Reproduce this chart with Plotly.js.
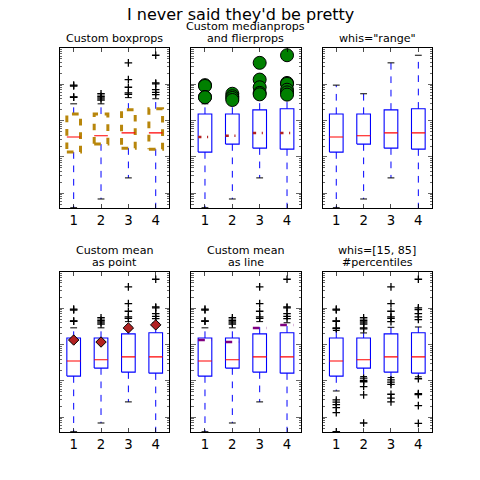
<!DOCTYPE html>
<html><head><meta charset="utf-8">
<script src="https://cdn.plot.ly/plotly-3.0.1.min.js"></script>
<style>html,body{margin:0;padding:0;background:#fff}#chart{width:480px;height:480px}</style>
</head><body><div id="chart"></div>
<script>
// ---- data (log-normal samples, 4 series) ----
const positions = [1, 2, 3, 4];
const tickLabels = ['1', '2', '3', '4'];
const q1 = [1.36, 2.26, 1.75, 1.64];
const medians = [3.55, 3.83, 4.6, 4.6];
const q3 = [15.2, 15.2, 19.8, 21.2];
const means = [13.4, 11.8, 28.8, 35.0];
// whiskers at 1.5 IQR and the fliers beyond
const whisLow = [0.040, 0.0696, 0.265, 0.030];
const whisHigh = [29, 29, 43, 40];
const fliersHigh = [[95, 90, 45, 44], [55, 47, 42, 37], [390, 135, 83, 58, 53], [632, 109, 103, 71, 60, 52]];
// full range
const dataMin = [0.040, 0.0696, 0.265, 0.030];
const dataMax = [95, 55, 390, 632];
// 15th / 85th percentiles and the points outside them
const p15 = [0.53, 1.32, 1.24, 1.30];
const p85 = [24.5, 21, 30, 30.6];
const pctFliersLow = [[0.30, 0.26, 0.223, 0.184, 0.134, 0.040], [1.19, 1.03, 0.95, 0.70, 0.413, 0.0696],
                      [1.07, 0.93, 0.80, 0.43, 0.335, 0.265], [1.15, 0.45, 0.42, 0.209, 0.068, 0.030]];
const pctFliersHigh = [[95, 90, 45, 44, 29, 27.5], [55, 47, 42, 37, 29, 27],
                       [390, 135, 83, 58, 53, 43], [632, 103, 92, 71, 58, 49]];
const subTitles = [['Custom boxprops'], ['Custom medianprops', 'and flierprops'], ['whis="range"'],
                   ['Custom mean', 'as point'], ['Custom mean', 'as line'], ['whis=[15, 85]', '#percentiles']];
const mainTitle = "I never said they'd be pretty";

// ---- styling ----
const FONT = 'DejaVu Sans, Bitstream Vera Sans, sans-serif';
const BLUE = '#0000ff', RED = '#ff0000';
const DASH = '6.7px,6.7px';
const BOXW = 0.5, CAPW = 0.25;
const ids = ['', '2', '3', '4', '5', '6'];
const traces = [];

function lines(k, segs, line) {
  const x = [], y = [];
  segs.forEach(s => { for (let i = 0; i < s.length; i += 2) { x.push(s[i]); y.push(s[i + 1]); } x.push(null); y.push(null); });
  traces.push({type: 'scatter', mode: 'lines', x: x, y: y, xaxis: 'x' + ids[k], yaxis: 'y' + ids[k],
    line: line, hoverinfo: 'skip', showlegend: false, cliponaxis: true});
}
function points(k, xs, ys, marker) {
  traces.push({type: 'scatter', mode: 'markers', x: xs, y: ys, xaxis: 'x' + ids[k], yaxis: 'y' + ids[k],
    marker: marker, hoverinfo: 'skip', showlegend: false, cliponaxis: true});
}

const plusMarker = {symbol: 'cross-thin', size: 5.4, color: 'black', line: {color: 'black', width: 1.3}};

function drawPanel(k, o) {
  const wl = o.lo, wh = o.hi;
  // whiskers
  lines(k, positions.map((p, i) => [p, q1[i], p, wl[i]]).concat(positions.map((p, i) => [p, q3[i], p, wh[i]])),
        {color: BLUE, width: 1, dash: DASH});
  // caps
  lines(k, positions.map((p, i) => [p - CAPW / 2, wl[i], p + CAPW / 2, wl[i]]).concat(
           positions.map((p, i) => [p - CAPW / 2, wh[i], p + CAPW / 2, wh[i]])), {color: 'black', width: 1});
  // boxes
  lines(k, positions.map((p, i) => [p - BOXW / 2, q1[i], p + BOXW / 2, q1[i], p + BOXW / 2, q3[i], p - BOXW / 2, q3[i], p - BOXW / 2, q1[i]]),
        o.boxLine || {color: BLUE, width: 1.1});
  // medians
  lines(k, positions.map((p, i) => [p - BOXW / 2, medians[i], p + BOXW / 2, medians[i]]), o.medLine || {color: RED, width: 1.1});
  // fliers
  if (o.fliers) {
    const fx = [], fy = [];
    o.fliers.forEach((arr, i) => arr.forEach(v => { fx.push(positions[i]); fy.push(v); }));
    points(k, fx, fy, o.flierMarker || plusMarker);
  }
  if (o.meanPoint) points(k, positions, means, {symbol: 'diamond', size: 8, color: '#b22222', line: {color: 'black', width: 1}});
  if (o.meanLine) lines(k, positions.map((p, i) => [p - BOXW / 2, means[i], p + BOXW / 2, means[i]]), {color: '#800080', width: 2.5, dash: DASH});
}

drawPanel(0, {lo: whisLow, hi: whisHigh, fliers: fliersHigh, boxLine: {color: '#b8860b', width: 3, dash: DASH}});
drawPanel(1, {lo: whisLow, hi: whisHigh, fliers: fliersHigh,
  medLine: {color: '#b22222', width: 2.5, dash: '3.3px,5.6px,1.1px,5.6px'},
  flierMarker: {symbol: 'circle', size: 13, color: 'green', line: {color: 'black', width: 1}}});
drawPanel(2, {lo: dataMin, hi: dataMax});
drawPanel(3, {lo: whisLow, hi: whisHigh, fliers: fliersHigh, meanPoint: true});
drawPanel(4, {lo: whisLow, hi: whisHigh, fliers: fliersHigh, meanLine: true});
drawPanel(5, {lo: p15, hi: p85, fliers: pctFliersLow.map((a, i) => a.concat(pctFliersHigh[i]))});

// ---- layout ----
const W = 480, H = 480;
const colX = [[60, 169.4], [191.3, 300.7], [322.6, 432]];
const rowY = [[48, 208], [272, 432]];
const layout = {width: W, height: H, margin: {l: 0, r: 0, t: 0, b: 0}, paper_bgcolor: 'white', plot_bgcolor: 'white',
  font: {family: FONT, color: 'black'}, showlegend: false, annotations: []};
for (let k = 0; k < 6; k++) {
  const c = colX[k % 3], r = rowY[Math.floor(k / 3)];
  layout['xaxis' + ids[k]] = {domain: [c[0] / W, c[1] / W], anchor: 'y' + ids[k], range: [0.5, 4.5],
    tickmode: 'array', tickvals: positions, ticktext: tickLabels, ticks: 'inside', ticklen: 4.4, tickwidth: 0.7,
    tickcolor: 'black', showline: true, linecolor: 'black', linewidth: 1, mirror: 'allticks', showgrid: false,
    zeroline: false, tickfont: {size: 13.3, family: FONT}, fixedrange: true};
  layout['yaxis' + ids[k]] = {domain: [1 - r[1] / H, 1 - r[0] / H], anchor: 'x' + ids[k], type: 'log',
    range: [Math.log10(0.0393), 3], dtick: 1, ticks: 'inside', ticklen: 4.4, tickwidth: 0.6, tickcolor: 'black',
    showticklabels: false, showline: true, linecolor: 'black', linewidth: 1, mirror: 'allticks', showgrid: false,
    zeroline: false, minor: {ticks: 'inside', ticklen: 2.2, tickwidth: 0.6, tickcolor: 'black', dtick: 'D1', showgrid: false},
    fixedrange: true};
  const tl = subTitles[k];
  tl.forEach((line, j) => {
    layout.annotations.push({text: line, xref: 'paper', yref: 'paper', x: (c[0] + c[1]) / 2 / W,
      y: 1 - r[0] / H, xanchor: 'center', yanchor: 'bottom', yshift: 2 + 12 * (tl.length - 1 - j), showarrow: false,
      borderpad: 0, font: {size: 11.1, family: FONT, color: 'black'}});
  });
}
layout.annotations.push({text: mainTitle, xref: 'paper', yref: 'paper', x: 0.5, y: 1 - 4 / H, xanchor: 'center',
  yanchor: 'top', showarrow: false, borderpad: 0, font: {size: 16, family: FONT, color: 'black'}});

Plotly.newPlot('chart', traces, layout, {staticPlot: true, displayModeBar: false});
</script></body></html>
